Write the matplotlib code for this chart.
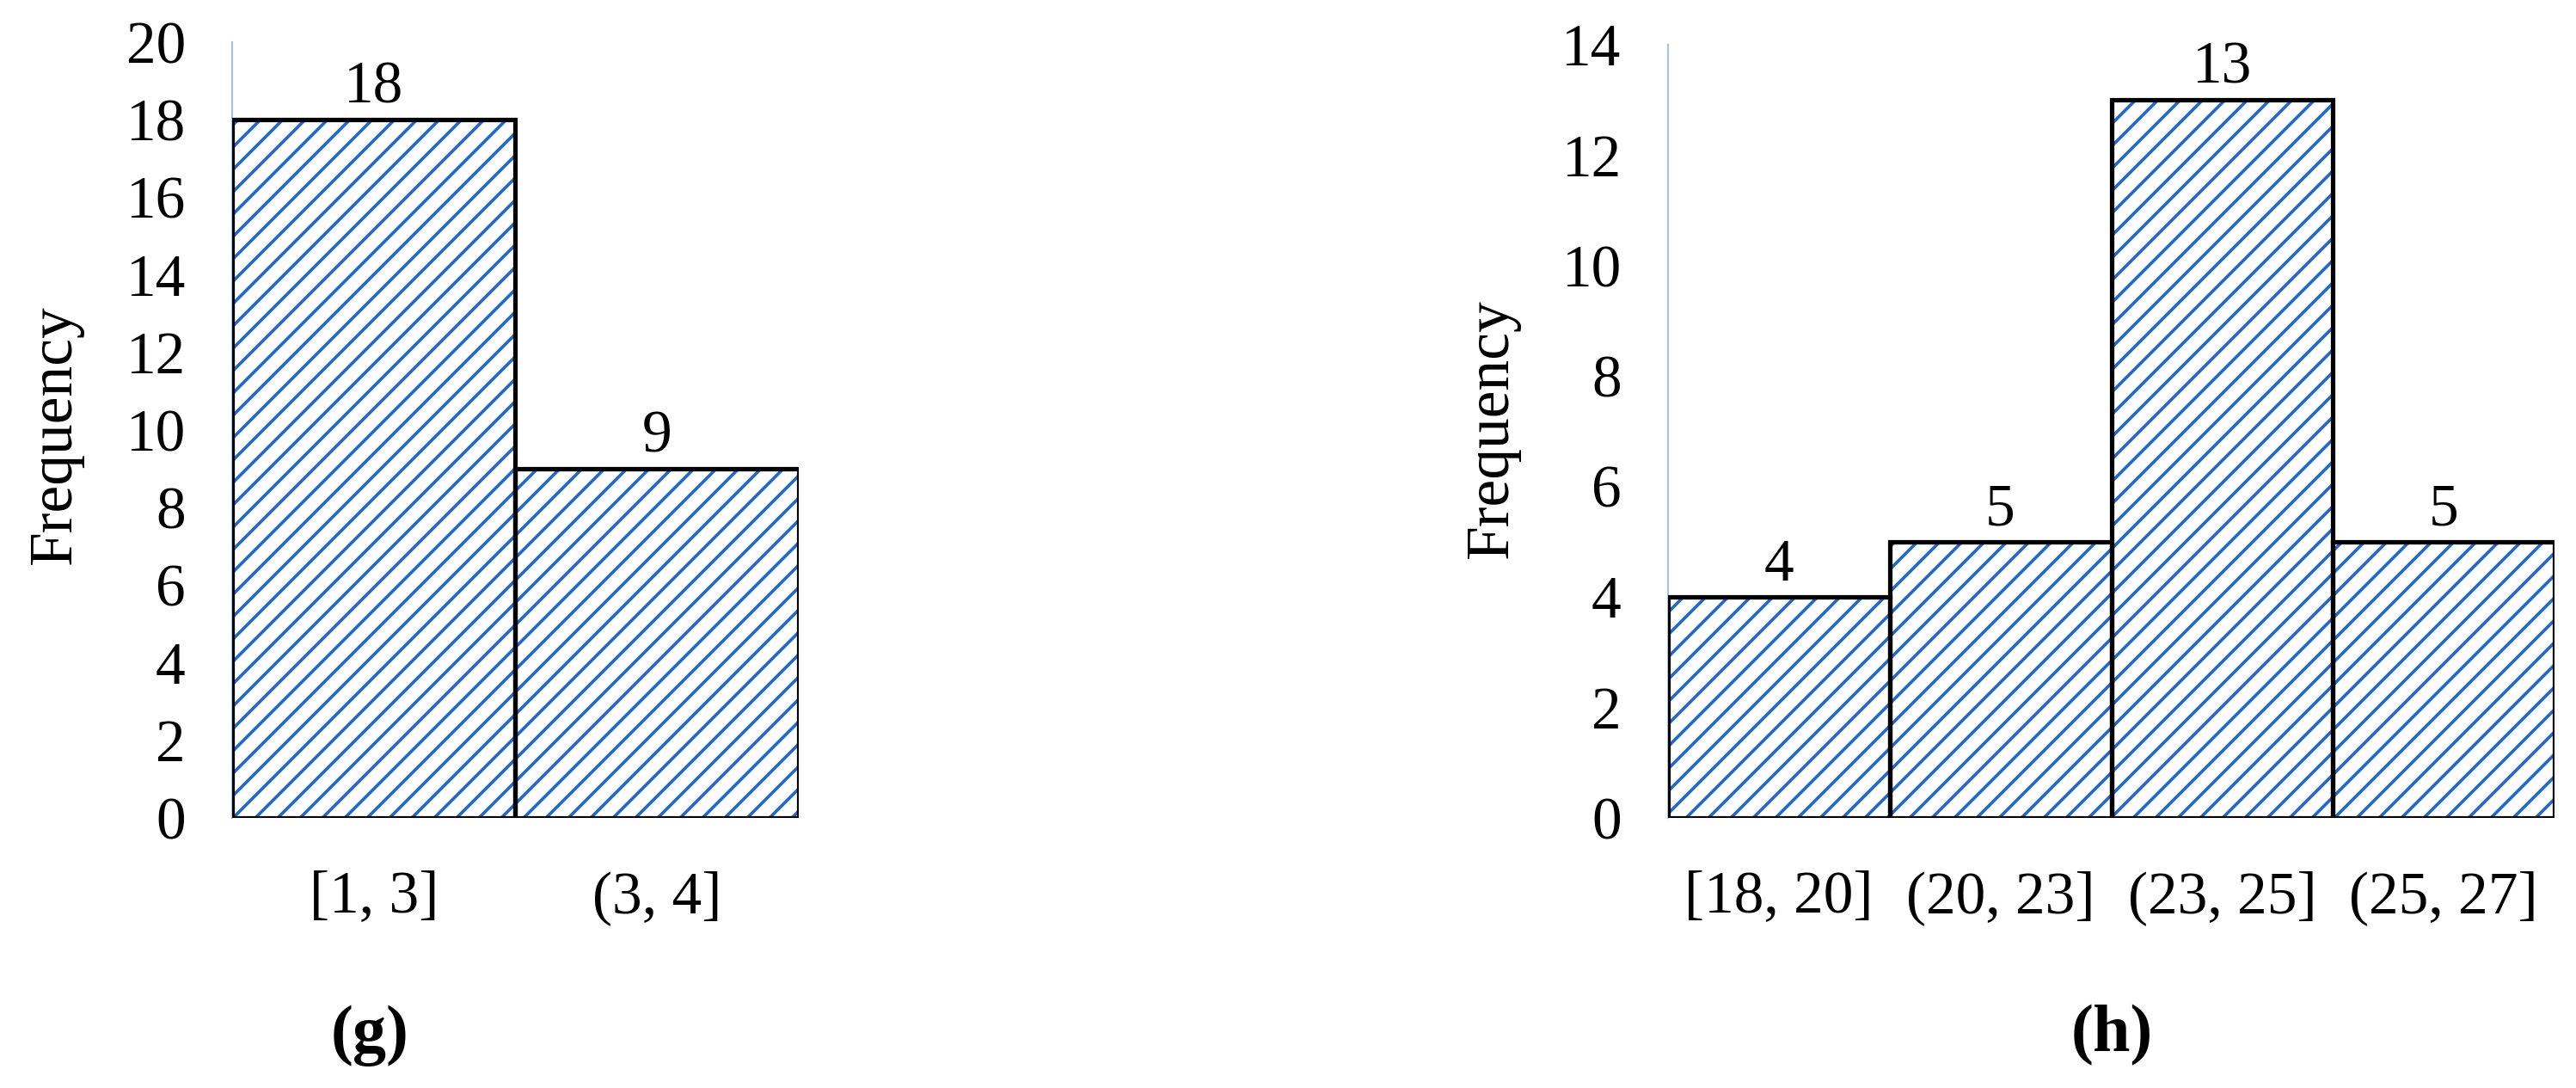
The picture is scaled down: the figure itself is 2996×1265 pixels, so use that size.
import matplotlib.pyplot as plt

# (g) data
g_bins = ["[1, 3]", "(3, 4]"]
g_freq = [18, 9]
g_yticks = [0, 2, 4, 6, 8, 10, 12, 14, 16, 18, 20]

# (h) data
h_bins = ["[18, 20]", "(20, 23]", "(23, 25]", "(25, 27]"]
h_freq = [4, 5, 13, 5]
h_yticks = [0, 2, 4, 6, 8, 10, 12, 14]

DPI = 156
plt.rcParams['font.family'] = ['Liberation Serif', 'DejaVu Serif']
plt.rcParams['hatch.linewidth'] = 1.7

HATCH_BLUE = "#2468cc"
SPINE_BLUE = "#a7c3ec"

fig = plt.figure(figsize=(2996 / DPI, 1265 / DPI), dpi=DPI)

ax_g = fig.add_axes([0.0901, 0.2482, 0.2200, 0.9613 - 0.2482])
ax_h = fig.add_axes([0.6475, 0.2482, 0.3442, 0.9589 - 0.2482])


def draw_hist(ax, bins, freq, yticks, label_x, label_y):
    x = list(range(len(bins)))
    # hatch fill
    ax.bar(x, freq, width=1.0, color="white", edgecolor=HATCH_BLUE,
           hatch="//", linewidth=0, zorder=3)
    # black outline
    ax.bar(x, freq, width=1.0, fill=False, edgecolor="black",
           linewidth=2.4, zorder=4)
    for xi, v in zip(x, freq):
        ax.annotate(str(v), (xi, v), xytext=(0, 9), textcoords="offset points",
                    ha="center", va="baseline", fontsize=32, zorder=5)

    ax.set_xlim(-0.5, len(bins) - 0.5)
    ax.set_ylim(0, yticks[-1])
    ax.set_yticks(yticks)
    ax.set_xticks(x)
    ax.set_xticklabels(bins)
    ax.tick_params(axis="y", length=0, pad=25, labelsize=32)
    ax.tick_params(axis="x", length=0, pad=28, labelsize=32)

    for s in ["top", "right", "bottom"]:
        ax.spines[s].set_visible(False)
    ax.spines["left"].set_color(SPINE_BLUE)
    ax.spines["left"].set_linewidth(1.0)
    ax.spines["left"].set_zorder(2)

    ax.set_ylabel("Frequency", fontsize=33)
    ax.yaxis.set_label_coords(label_x, label_y)


draw_hist(ax_g, g_bins, g_freq, g_yticks, -0.2625, 0.494)
draw_hist(ax_h, h_bins, h_freq, h_yticks, -0.1668, 0.504)

fig.text(430 / 2996, 1 - 1204 / 1265, "(g)", ha="center", va="center",
         fontsize=36, fontweight="bold")
fig.text(2456 / 2996, 1 - 1204 / 1265, "(h)", ha="center", va="center",
         fontsize=36, fontweight="bold")

fig.savefig("out.png", dpi=DPI)
